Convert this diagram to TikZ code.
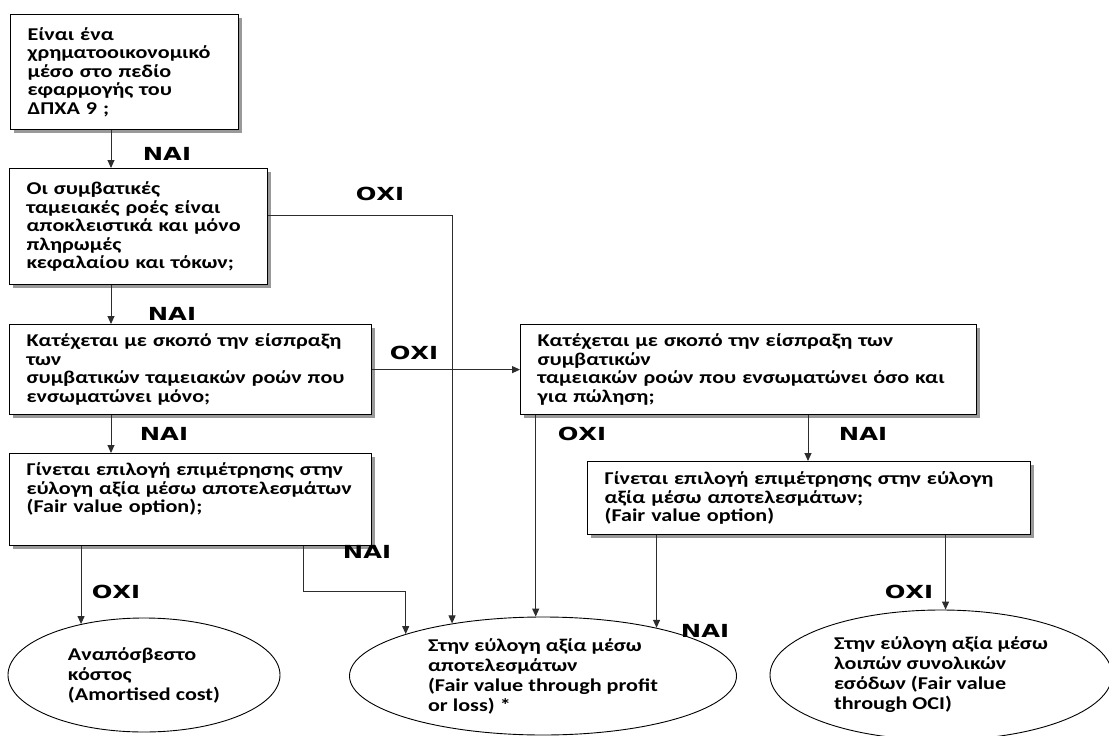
\documentclass[tikz,border=0pt]{standalone}
\usepackage{fontspec}
\setmainfont{Carlito}[FakeStretch=1.23]
\newfontfamily\answerfont{DejaVu Sans}[FakeStretch=1.35]
\usetikzlibrary{positioning, arrows.meta, shapes.geometric, shadows}
\definecolor{linegray}{RGB}{45, 45, 45}
\definecolor{shadowgray}{RGB}{110, 110, 110}

\begin{document}
\begin{tikzpicture}[x=1pt, y=-1pt,
    qbox/.style={draw=black, line width=1.2pt, fill=white, anchor=north west,
      inner xsep=17pt, inner ysep=0pt, align=left,
      font=\fontsize{18}{18.5}\selectfont\bfseries,
      drop shadow={shadow xshift=3pt, shadow yshift=-3pt, fill=shadowgray, opacity=0.7}},
    outcome/.style={draw=black, line width=0.9pt, ellipse, inner sep=0pt, align=left,
      font=\fontsize{18}{20}\selectfont\bfseries},
    answer/.style={font=\answerfont\fontsize{18}{20}\selectfont\bfseries},
    flow/.style={draw=linegray, line width=1pt, -{Triangle[length=8pt, width=7pt]}}]
  \path[fill=white, use as bounding box] (0,0) rectangle (1109,736);

  % Questions
  \node[qbox, text width=194pt, minimum height=115pt] (isfin) at (10,14)
    {Είναι ένα\\ χρηματοοικονομικό\\ μέσο στο πεδίο\\ εφαρμογής του\\ ΔΠΧΑ 9 ;};
  \node[qbox, text width=224pt, minimum height=116pt] (sppi) at (9,168)
    {Οι συμβατικές\\ ταμειακές ροές είναι\\ αποκλειστικά και μόνο\\ πληρωμές\\ κεφαλαίου και τόκων;};
  \node[qbox, text width=328pt, minimum height=90pt] (hold) at (9,324)
    {Κατέχεται με σκοπό την είσπραξη\\ των\\ συμβατικών ταμειακών ροών που\\ ενσωματώνει μόνο;};
  \node[qbox, text width=422pt, minimum height=90pt] (both) at (520,324)
    {Κατέχεται με σκοπό την είσπραξη των\\ συμβατικών\\ ταμειακών ροών που ενσωματώνει όσο και\\ για πώληση;};
  \node[qbox, text width=328pt, minimum height=92pt] (fvoa) at (9,453)
    {Γίνεται επιλογή επιμέτρησης στην\\ εύλογη αξία μέσω αποτελεσμάτων\\ (Fair value option);\\ \strut};
  \node[qbox, text width=409pt, minimum height=73pt] (fvob) at (587,461)
    {Γίνεται επιλογή επιμέτρησης στην εύλογη\\ αξία μέσω αποτελεσμάτων;\\ (Fair value option)};

  % Outcomes
  \node[outcome, minimum width=272pt, minimum height=114pt] (amort) at (144,675)
    {Αναπόσβεστο\\ κόστος\\ (Amortised cost)};
  \node[outcome, minimum width=387pt, minimum height=118pt] (fvpl) at (543,676)
    {Στην εύλογη αξία μέσω\\ αποτελεσμάτων\\ (Fair value through profit\\ or loss) *};
  \node[outcome, minimum width=342pt, minimum height=130pt] (fvoci) at (941,675)
    {Στην εύλογη αξία μέσω\\ λοιπών συνολικών\\ εσόδων (Fair value\\ through OCI)};

  % Connectors
  \coordinate (colA) at (111,0);
  \coordinate (colB) at (808,0);
  \coordinate (knee) at (303,591);
  \draw[flow] (isfin.south -| colA) -- (sppi.north -| colA);
  \draw[flow] (sppi.south -| colA) -- (hold.north -| colA);
  \draw[flow] (hold.south -| colA) -- (fvoa.north -| colA);
  \draw[flow] ([yshift=11pt]sppi.east) -| (fvpl.150);
  \draw[flow] (hold.east) -- (both.west);
  \draw[flow] (both.south -| colB) -- (fvob.north -| colB);
  \draw[flow] (both.south -| fvpl.97) -- (fvpl.97);
  \draw[flow] (fvoa.south -| amort.141) -- (amort.141);
  \draw[flow] (fvoa.south -| knee) -- (knee) -| (fvpl.163);
  \draw[flow] (fvob.south -| fvpl.23) -- (fvpl.23);
  \draw[flow] (fvob.south -| fvoci.86) -- (fvoci.86);

  % Answers
  \node[answer] (yes1) at (167,154) {ΝΑΙ};
  \node[answer] (no1) at (380,194) {ΟΧΙ};
  \node[answer] (yes2) at (172,314) {ΝΑΙ};
  \node[answer] (no2) at (414,353) {ΟΧΙ};
  \node[answer] (yes3) at (164,434) {ΝΑΙ};
  \node[answer] (no3) at (582,434) {ΟΧΙ};
  \node[answer] (yes4) at (863,434) {ΝΑΙ};
  \node[answer] (yes5) at (367,552) {ΝΑΙ};
  \node[answer] (no5) at (116,592) {ΟΧΙ};
  \node[answer] (yes6) at (705,631) {ΝΑΙ};
  \node[answer] (no6) at (909,592) {ΟΧΙ};
\end{tikzpicture}
\end{document}
